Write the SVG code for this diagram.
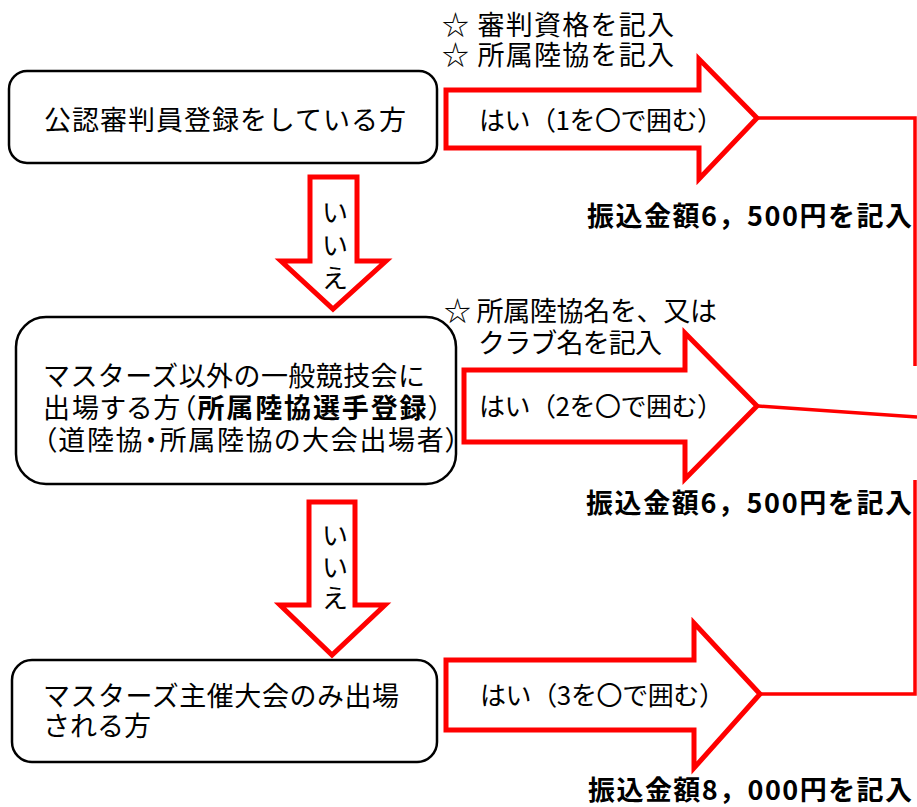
<svg xmlns="http://www.w3.org/2000/svg" width="917" height="807" viewBox="0 0 917 807">
<style>
text{font-family:"Noto Sans CJK JP","Noto Sans CJK SC",sans-serif;font-size:27px;fill:#000}
.sm{font-size:26px}
.b{font-weight:bold}
.p{font-feature-settings:"palt"}
.box{fill:#fff;stroke:#000;stroke-width:2.5}
.arrow{fill:#fff;stroke:#f00;stroke-width:5;stroke-linejoin:miter}
.line{fill:none;stroke:#f00;stroke-width:3.5}
.v{text-anchor:middle}
</style>
<rect width="917" height="807" fill="#fff"/>
<g id="connectors">
<polyline class="line" points="758,118 915,118 915,366"/>
<polyline class="line" points="758,406 917,417"/>
<polyline class="line" points="761,694 915,694 915,480"/>
</g>
<g id="node1">
<rect class="box" x="9" y="71" width="428" height="92" rx="18"/>
<text x="44" y="130" textLength="362" lengthAdjust="spacing">公認審判員登録をしている方</text>
</g>
<g id="note1">
<text x="442" y="35" textLength="232" lengthAdjust="spacing">☆ 審判資格を記入</text>
<text x="442" y="65" textLength="232" lengthAdjust="spacing">☆ 所属陸協を記入</text>
</g>
<g id="yes1">
<polygon class="arrow" points="446,90 699,90 699,59 757,118 699,179 699,148 446,148"/>
<text class="sm" x="479" y="130" textLength="244" lengthAdjust="spacing">はい（1を〇で囲む）</text>
</g>
<g id="fee1">
<text class="b" x="587" y="226" textLength="325" lengthAdjust="spacing">振込金額6，500円を記入</text>
</g>
<g id="no1">
<polygon class="arrow" points="310,177 357,177 357,261 386,261 333,309 281,261 310,261"/>
<text class="sm v" x="335" y="222">い</text>
<text class="sm v" x="335" y="255">い</text>
<text class="sm v" x="335" y="288">え</text>
</g>
<g id="node2">
<rect class="box" x="16" y="317" width="440" height="167" rx="30"/>
<text x="43" y="386" textLength="382" lengthAdjust="spacing">マスターズ以外の一般競技会に</text>
<text class="p" x="43" y="418" textLength="399" lengthAdjust="spacing">出場する方（<tspan class="b">所属陸協選手登録</tspan>）</text>
<text class="p" x="43" y="450" textLength="416" lengthAdjust="spacing">（道陸協・所属陸協の大会出場者）</text>
</g>
<g id="note2">
<text x="444" y="321" textLength="273" lengthAdjust="spacing">☆ 所属陸協名を、又は</text>
<text x="478" y="353" textLength="184" lengthAdjust="spacing">クラブ名を記入</text>
</g>
<g id="yes2">
<polygon class="arrow" points="464,370 685,370 685,333 757,406 685,479 685,442 464,442"/>
<text class="sm" x="479" y="416" textLength="244" lengthAdjust="spacing">はい（2を〇で囲む）</text>
</g>
<g id="fee2">
<text class="b" x="586" y="513" textLength="326" lengthAdjust="spacing">振込金額6，500円を記入</text>
</g>
<g id="no2">
<polygon class="arrow" points="309,502 355,502 355,605 385,605 332,655 280,605 309,605"/>
<text class="sm v" x="335" y="545">い</text>
<text class="sm v" x="335" y="577">い</text>
<text class="sm v" x="335" y="608">え</text>
</g>
<g id="node3">
<rect class="box" x="12" y="660" width="425" height="102" rx="20"/>
<text x="43" y="706" textLength="356" lengthAdjust="spacing">マスターズ主催大会のみ出場</text>
<text x="43" y="736">される方</text>
</g>
<g id="yes3">
<polygon class="arrow" points="446,660 694,660 694,623 760,694 694,768 694,730 446,730"/>
<text class="sm" x="480" y="705" textLength="245" lengthAdjust="spacing">はい（3を〇で囲む）</text>
</g>
<g id="fee3">
<text class="b" x="588" y="800" textLength="324" lengthAdjust="spacing">振込金額8，000円を記入</text>
</g>
</svg>
